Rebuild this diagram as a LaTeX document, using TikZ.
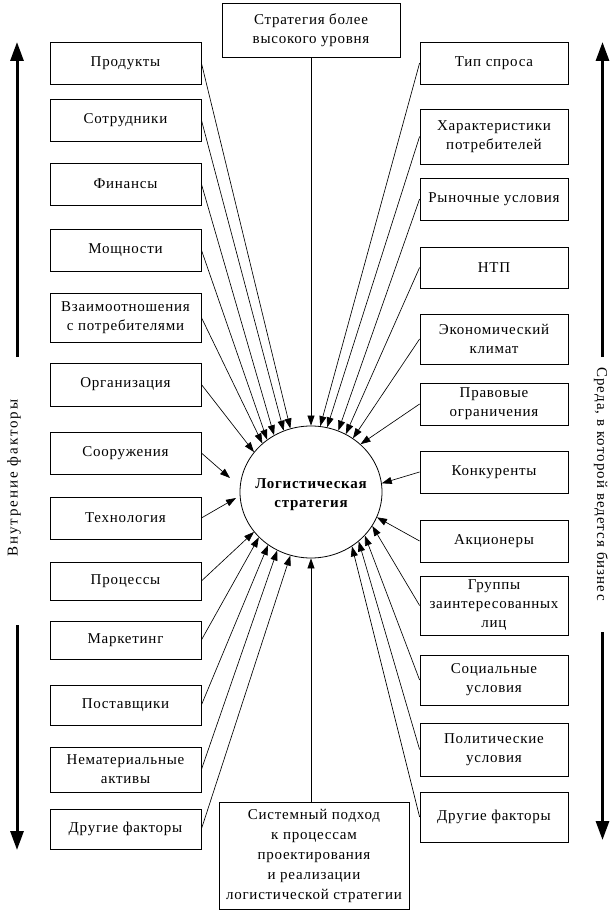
\documentclass[tikz,border=0pt]{standalone}
\usepackage{fontspec}
\setmainfont{Liberation Serif}[LetterSpace=5]
\usetikzlibrary{arrows.meta,shapes.geometric}
\begin{document}
\begin{tikzpicture}[x=1pt,y=-1pt,
  every node/.style={font=\fontsize{15}{19}\selectfont},
  box/.style={draw, line width=0.8pt, align=center, inner sep=0pt},
  lbox/.style={box, minimum width=151pt},
  rbox/.style={box, minimum width=148pt},
  conn/.style={-{Triangle[length=10pt,width=7pt]}, line width=0.65pt},
  big/.style={-{Triangle[length=19pt,width=13pt]}, line width=3pt},
]
\useasboundingbox (0,0) rectangle (615,912);

% centre
\node[draw, ellipse, line width=0.8pt, minimum width=142pt, minimum height=132pt, inner sep=0pt] (c) at (311,492) {};
\node[align=center, inner sep=0pt, font=\fontsize{15}{19}\selectfont\bfseries] (ct) at (311,495) {Логистическая\\стратегия};

% top and bottom
\node[box, minimum width=178pt, minimum height=54pt] (top) at (311,30) {Стратегия более\\высокого уровня};
\node[box, minimum width=190pt, minimum height=107pt, font=\fontsize{15}{20}\selectfont] (bot) at (314,855.5)
  {Системный подход\\к процессам\\проектирования\\и реализации\\логистической стратегии};

% left column
\node[lbox, minimum height=42pt] (l1) at (125.5,63) {Продукты};
\node[lbox, minimum height=42pt] (l2) at (125.5,120) {Сотрудники};
\node[lbox, minimum height=42pt] (l3) at (125.5,184) {Финансы};
\node[lbox, minimum height=42pt] (l4) at (125.5,250) {Мощности};
\node[lbox, minimum height=49pt] (l5) at (125.5,317.5) {Взаимоотношения\\с потребителями};
\node[lbox, minimum height=43pt] (l6) at (125.5,384.5) {Организация};
\node[lbox, minimum height=42pt] (l7) at (125.5,453) {Сооружения};
\node[lbox, minimum height=42pt] (l8) at (125.5,518) {Технология};
\node[lbox, minimum height=38pt] (l9) at (125.5,581) {Процессы};
\node[lbox, minimum height=38pt] (l10) at (125.5,640) {Маркетинг};
\node[lbox, minimum height=40pt] (l11) at (125.5,705) {Поставщики};
\node[lbox, minimum height=45pt] (l12) at (125.5,769.5) {Нематериальные\\активы};
\node[lbox, minimum height=40pt] (l13) at (125.5,829) {Другие факторы};

% right column
\node[rbox, minimum height=42pt] (r1) at (494,63) {Тип спроса};
\node[rbox, minimum height=55pt] (r2) at (494,136.5) {Характеристики\\потребителей};
\node[rbox, minimum height=42pt] (r3) at (494,199) {Рыночные условия};
\node[rbox, minimum height=41pt] (r4) at (494,267.5) {НТП};
\node[rbox, minimum height=50pt] (r5) at (494,339) {Экономический\\климат};
\node[rbox, minimum height=42pt] (r6) at (494,404) {Правовые\\ограничения};
\node[rbox, minimum height=42pt] (r7) at (494,472) {Конкуренты};
\node[rbox, minimum height=42pt] (r8) at (494,541) {Акционеры};
\node[rbox, minimum height=59pt] (r9) at (494,605.5) {Группы\\заинтересованных\\лиц};
\node[rbox, minimum height=50pt] (r10) at (494,680) {Социальные\\условия};
\node[rbox, minimum height=53pt] (r11) at (494,749.5) {Политические\\условия};
\node[rbox, minimum height=50pt] (r12) at (494,817) {Другие факторы};

% side labels
\node[rotate=90, font=\fontsize{15}{19}\selectfont\addfontfeatures{LetterSpace=13}] (lt) at (14,478) {Внутрение факторы};
\node[rotate=-90, font=\fontsize{15}{19}\selectfont\addfontfeatures{LetterSpace=7}] (rt) at (601,484) {Среда, в которой ведется бизнес};

% big arrows
\coordinate (la1) at (17,357); \coordinate (la2) at (17,42);
\coordinate (lb1) at (17,625); \coordinate (lb2) at (17,850);
\coordinate (ra1) at (602.5,357); \coordinate (ra2) at (602.5,42);
\coordinate (rb1) at (602.5,632); \coordinate (rb2) at (602.5,840);
\draw[big] (la1) -- (la2);
\draw[big] (lb1) -- (lb2);
\draw[big] (ra1) -- (ra2);
\draw[big] (rb1) -- (rb2);

% connectors
\draw[conn] (top) -- (c);
\draw[conn] (bot.north -| c.south) -- (c.south);

\draw[conn] (l1.east) -- (c.108);
\draw[conn] (l2.east) -- (c.114.7);
\draw[conn] (l3.east) -- (c.123);
\draw[conn] (l4.east) -- (c.130.7);
\draw[conn] (l5.east) -- (c.135.8);
\draw[conn] (l6.east) -- (c.145.6);
\coordinate (t7) at (230,478);
\coordinate (t8) at (236,498);
\draw[conn] (l7.east) -- (t7);
\draw[conn] (l8.east) -- (t8);
\draw[conn] (l9.east) -- (c.215);
\draw[conn] (l10.east) -- (c.221.4);
\draw[conn] (l11.east) -- (c.231);
\draw[conn] (l12.east) -- (c.240.5);
\draw[conn] (l13.east) -- (c.252);

\draw[conn] (r1.west) -- (c.82.8);
\draw[conn] (r2.west) -- (c.76.2);
\draw[conn] (r3.west) -- (c.66);
\draw[conn] (r4.west) -- (c.59.4);
\draw[conn] (r5.west) -- (c.52.6);
\draw[conn] (r6.west) -- (c.44.7);
\draw[conn] (r7.west) -- (c.7);
\draw[conn] (r8.west) -- (c.-21);
\draw[conn] (r9.west) -- (c.-29.5);
\draw[conn] (r10.west) -- (c.-39.2);
\draw[conn] (r11.west) -- (c.-46.4);
\draw[conn] (r12.west) -- (c.-53.1);
\end{tikzpicture}
\end{document}
